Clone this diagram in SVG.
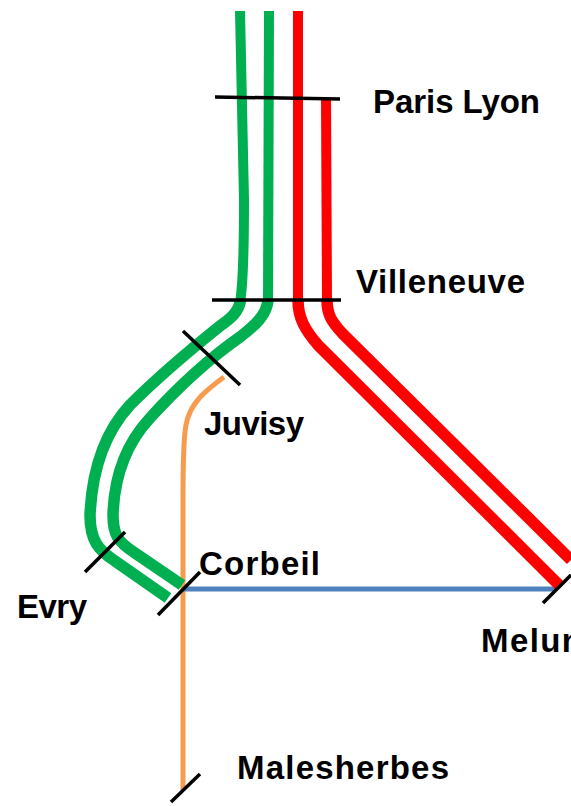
<svg xmlns="http://www.w3.org/2000/svg" width="571" height="806" viewBox="0 0 571 806">
<style>
.track{fill:none;stroke-width:10}
.lower{stroke-width:11.5}
.green{stroke:#00b050}
.red{stroke:#ff0000}
.orange{fill:none;stroke:#f79646;stroke-width:5;stroke-opacity:.95}
.blue{fill:none;stroke:#4f81bd;stroke-width:5}
.tick{fill:none;stroke:#000;stroke-width:3.5}
text{font-family:"Liberation Sans",Arial,sans-serif;font-weight:700;font-size:33px;fill:#000}
</style>
<rect width="571" height="806" fill="#fff"/>
<g id="connectors">
<path class="orange" d="M224 377C205 391 190 403 186 425C183 440 183 470 183 500L183 790"/>
<path class="blue" d="M183 589L556 589"/>
<path class="track green" d="M240 11L244 200C244 240 244 270 241 295L240.500 300"/>
<path class="track green" d="M269 11L268 300"/>
<path class="track red" d="M298 11L298 300"/>
<path class="track red" d="M326 98L327 300"/>
<path class="track lower green" d="M240.500 300C239 312 230 319 220 326C190 350 160 375 130 405C105 432 92 470 90 515C90 540 98 550 115 561L168 598"/>
<path class="track lower green" d="M268 300C267 314 256 325 240 337C210 358 180 385 150 418C125 445 114 480 113 515C113 535 118 542 135 553L182 585"/>
<path class="track lower red" d="M298 300C298 318 305 330 318 345L559 585"/>
<path class="track lower red" d="M327 300C327 315 332 322 342 333L571 560"/>
<path class="tick" d="M215 97L340 99"/>
<path class="tick" d="M212 300L341 300"/>
<path class="tick" d="M183 331L240 385"/>
<path class="tick" d="M85 572L125 532"/>
<path class="tick" d="M158 615L200 572"/>
<path class="tick" d="M543 603L571 575"/>
<path class="tick" d="M171 802L200 774"/>
</g>
<g id="paris-lyon"><text x="373" y="113" textLength="167">Paris Lyon</text></g>
<g id="villeneuve"><text x="356" y="293" textLength="169">Villeneuve</text></g>
<g id="juvisy"><text x="204" y="435" textLength="100">Juvisy</text></g>
<g id="corbeil"><text x="199" y="575" textLength="121">Corbeil</text></g>
<g id="evry"><text x="17" y="618" textLength="70">Evry</text></g>
<g id="melun"><text x="481" y="652" textLength="101">Melun</text></g>
<g id="malesherbes"><text x="237" y="779" textLength="212">Malesherbes</text></g>
</svg>
